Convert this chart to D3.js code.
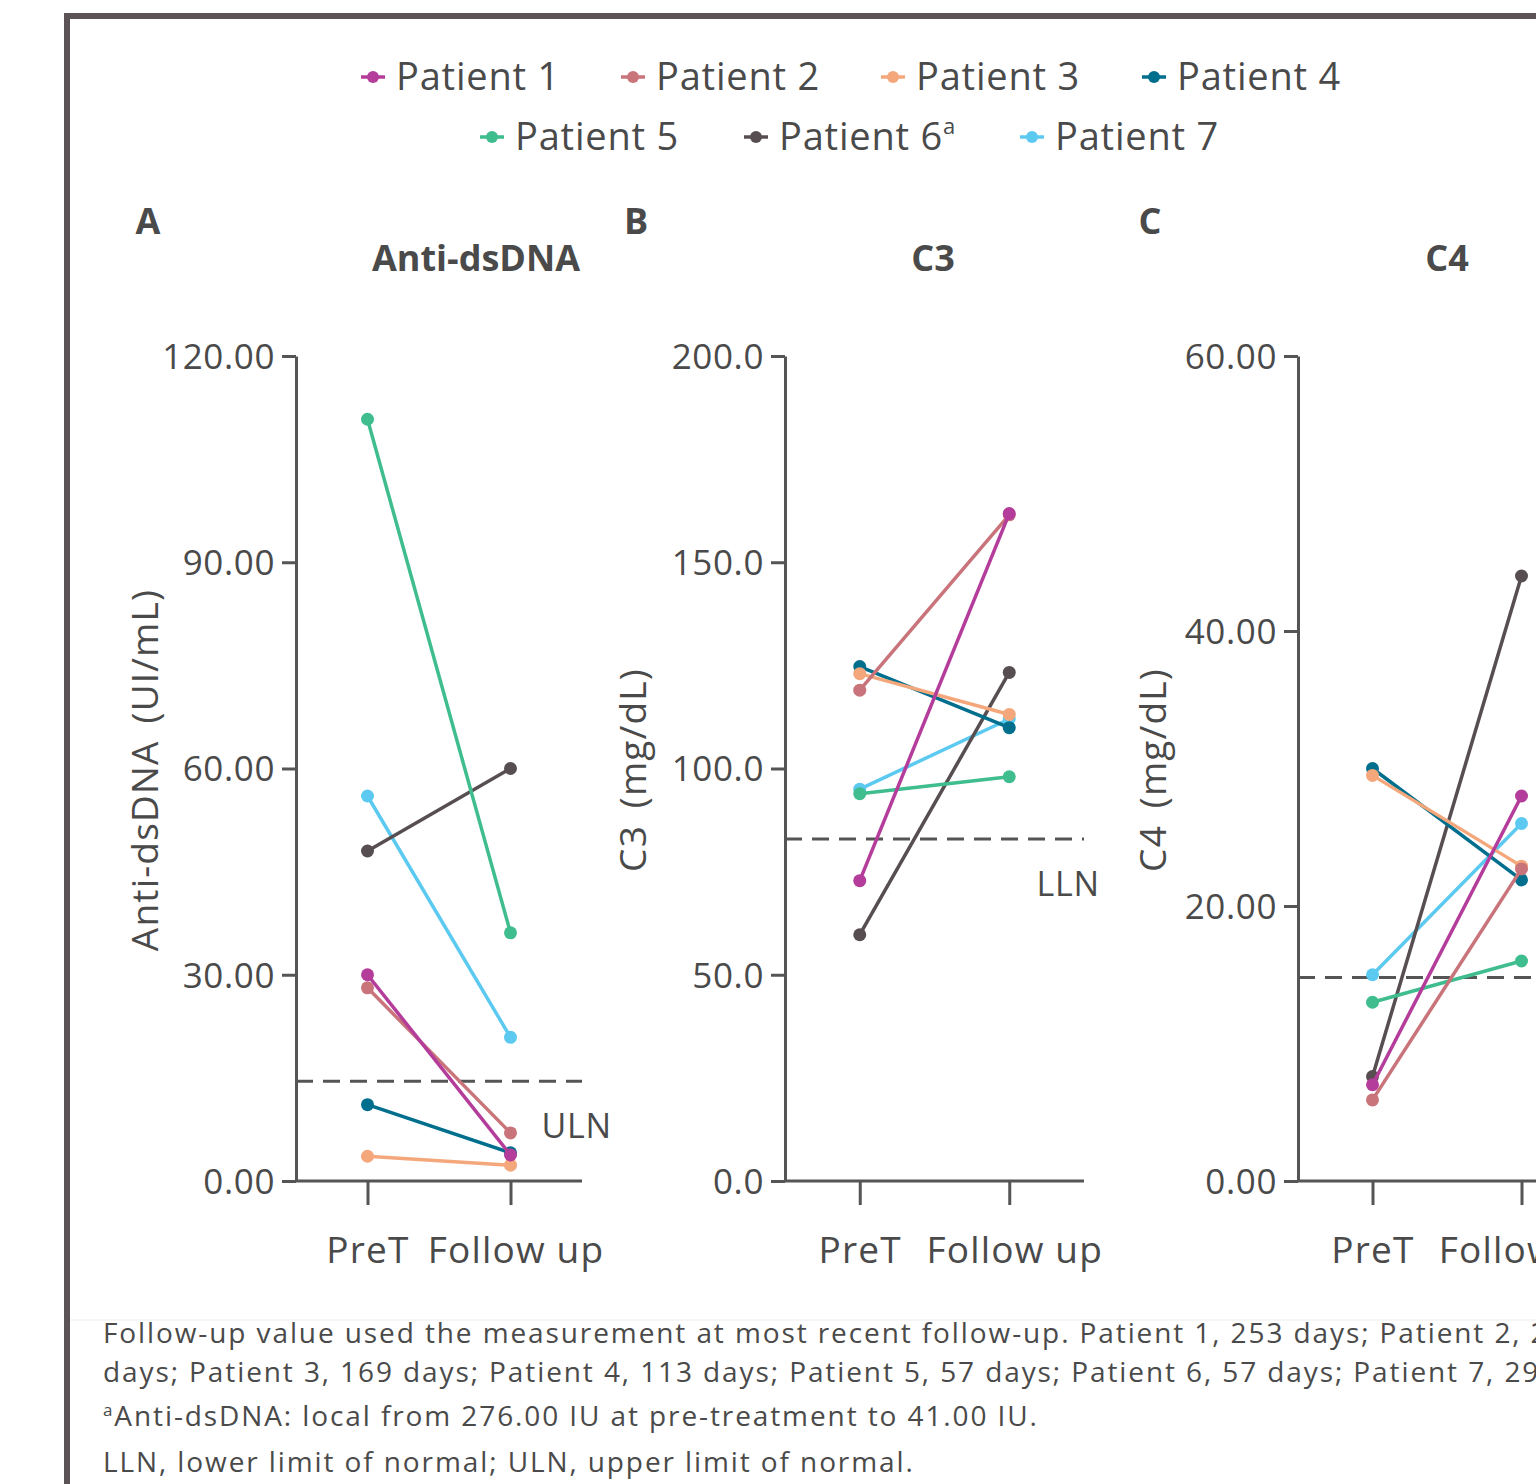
<script src="https://d3js.org/d3.v7.min.js"></script>
<style>
  body { margin: 0; background: #fff; overflow: hidden; }
  svg text { font-family: "Open Sans", sans-serif; fill: #4a4a4a; }
  .axis path, .axis line { stroke: #555; stroke-width: 3px; }
  .axis text { font-size: 35px; fill: #4a4a4a; }
</style>
<body>
<script>
  // data
  var patients = ["Patient 1", "Patient 2", "Patient 3", "Patient 4", "Patient 5", "Patient 6", "Patient 7"];
  var colors = ["#b43c9a", "#c9737a", "#f5a77c", "#006e8d", "#3fbd8f", "#574e51", "#5ccaf0"];
  var timepoints = ["PreT", "Follow up"];

  var dsdnaPre = [30.0, 28.1, 3.6, 11.1, 110.8, 48.0, 56.0];
  var dsdnaFollow = [3.8, 7.0, 2.3, 4.1, 36.1, 60.0, 20.9];
  var c3Pre = [72.8, 119.0, 123.0, 124.7, 93.9, 59.7, 95.0];
  var c3Follow = [161.8, 161.5, 113.1, 109.9, 98.0, 123.3, 112.0];
  var c4Pre = [7.0, 5.9, 29.5, 30.0, 13.0, 7.6, 15.0];
  var c4Follow = [28.0, 22.7, 22.9, 21.9, 16.0, 44.0, 26.0];

  var dsdnaTicks = [0, 30, 60, 90, 120];
  var c3Ticks = [0, 50, 100, 150, 200];
  var c4Ticks = [0, 20, 40, 60];
  var uln = 14.5, c3Lln = 82.9, c4Lln = 14.8;

  var W = 1536, H = 1484;
  var svg = d3.select("body").append("svg").attr("width", W).attr("height", H);

  // outer frame (cut off on the right like the source)
  svg.append("path")
    .attr("d", "M67,1490 V16 H1600")
    .attr("fill", "none").attr("stroke", "#5b5355").attr("stroke-width", 6);

  // legend
  var legendPos = [
    [373, 77], [633, 77], [893, 77], [1154, 77],
    [492, 137], [756, 137], [1032, 137]
  ];
  var leg = svg.selectAll("g.leg").data(patients).enter().append("g")
    .attr("class", "leg")
    .attr("transform", function(d, i) { return "translate(" + legendPos[i][0] + "," + legendPos[i][1] + ")"; });
  leg.append("line").attr("x1", -12).attr("x2", 12)
    .attr("stroke", function(d, i) { return colors[i]; }).attr("stroke-width", 3.5);
  leg.append("circle").attr("r", 6).attr("fill", function(d, i) { return colors[i]; });
  var lt = leg.append("text").attr("x", 23).attr("y", 13).style("font-size", "38px")
    .style("letter-spacing", "0.8px")
    .text(function(d) { return d; });
  lt.filter(function(d, i) { return i == 5; }).append("tspan")
    .attr("dy", -16).style("font-size", "22px").text("a");

  var panels = [
    { letter: "A", title: "Anti-dsDNA", ylab: "Anti-dsDNA (UI/mL)", pre: dsdnaPre, fu: dsdnaFollow,
      ticks: dsdnaTicks, fmt: ".2f", x0: 296, x1: 582, ref: uln, refLab: "ULN", refLabX: 612, refLabY: 1138,
      letterX: 148, titleX: 476, ylabX: 145 },
    { letter: "B", title: "C3", ylab: "C3 (mg/dL)", pre: c3Pre, fu: c3Follow,
      ticks: c3Ticks, fmt: ".1f", x0: 785, x1: 1084, ref: c3Lln, refLab: "LLN", refLabX: 1100, refLabY: 896,
      letterX: 636, titleX: 933, ylabX: 633 },
    { letter: "C", title: "C4", ylab: "C4 (mg/dL)", pre: c4Pre, fu: c4Follow,
      ticks: c4Ticks, fmt: ".2f", x0: 1298, x1: 1596, ref: c4Lln, refLab: null,
      letterX: 1150, titleX: 1447, ylabX: 1153 }
  ];

  var yTop = 356, yBot = 1181;

  panels.forEach(function(p) {
    var g = svg.append("g");
    var x = d3.scalePoint().domain(timepoints).range([p.x0, p.x1]).padding(0.5);
    var y = d3.scaleLinear().domain([0, d3.max(p.ticks)]).range([yBot, yTop]);

    g.append("text").attr("x", p.letterX).attr("y", 234).attr("text-anchor", "middle")
      .style("font-size", "36px").style("font-weight", "bold").text(p.letter);
    g.append("text").attr("x", p.titleX).attr("y", 271).attr("text-anchor", "middle")
      .style("font-size", "36px").style("font-weight", "bold").text(p.title);
    g.append("text")
      .attr("transform", "translate(" + (p.ylabX + 13) + ",770) rotate(-90)")
      .attr("text-anchor", "middle").style("font-size", "37px")
      .style("letter-spacing", "1.2px").style("word-spacing", "6px").text(p.ylab);

    var ya = g.append("g").attr("class", "axis").attr("transform", "translate(" + p.x0 + ",0)")
      .call(d3.axisLeft(y).tickValues(p.ticks).tickFormat(d3.format(p.fmt)).tickSize(14).tickSizeOuter(0).tickPadding(7));
    ya.selectAll("text").attr("dy", "0.35em").style("letter-spacing", "0.6px");

    var xa = g.append("g").attr("class", "axis").attr("transform", "translate(0," + yBot + ")")
      .call(d3.axisBottom(x).tickSize(24).tickSizeOuter(0).tickPadding(32));
    xa.selectAll("text").style("font-size", "37px").style("letter-spacing", "1.2px")
      .attr("dx", function(d) { return d == "Follow up" ? 5 : 0; });
    xa.select(".domain").attr("d", "M" + p.x0 + ",0H" + p.x1);

    // reference line
    g.append("line").attr("x1", p.x0).attr("x2", p.x1)
      .attr("y1", y(p.ref)).attr("y2", y(p.ref))
      .attr("stroke", "#555").attr("stroke-width", 3).attr("stroke-dasharray", "17,10");
    if (p.refLab) {
      g.append("text").attr("x", p.refLabX).attr("y", p.refLabY).attr("text-anchor", "end")
        .style("font-size", "34px").style("letter-spacing", "0.8px").text(p.refLab);
    }

    var rows = patients.map(function(d, i) { return { i: i, v: [p.pre[i], p.fu[i]] }; }).reverse();
    var pg = g.selectAll("g.pat").data(rows).enter().append("g").attr("class", "pat");
    pg.append("line")
      .attr("x1", x(timepoints[0])).attr("x2", x(timepoints[1]))
      .attr("y1", function(d) { return y(d.v[0]); })
      .attr("y2", function(d) { return y(d.v[1]); })
      .attr("stroke", function(d) { return colors[d.i]; }).attr("stroke-width", 3.5);
    pg.selectAll("circle").data(function(d) { return d.v.map(function(v, k) { return { v: v, k: k, i: d.i }; }); })
      .enter().append("circle")
      .attr("cx", function(d) { return x(timepoints[d.k]); })
      .attr("cy", function(d) { return y(d.v); })
      .attr("r", 6.5)
      .attr("fill", function(d) { return colors[d.i]; });
  });

  // footnotes
  svg.append("line").attr("x1", 70).attr("x2", 1536).attr("y1", 1320).attr("y2", 1320)
    .attr("stroke", "#f0eeee").attr("stroke-width", 1);
  var notes = [
    "Follow-up value used the measurement at most recent follow-up. Patient 1, 253 days; Patient 2, 2",
    "days; Patient 3, 169 days; Patient 4, 113 days; Patient 5, 57 days; Patient 6, 57 days; Patient 7, 29"
  ];
  var noteY = [1343, 1382];
  notes.forEach(function(t, i) {
    svg.append("text").attr("x", 103).attr("y", noteY[i]).style("font-size", "28px")
      .style("letter-spacing", "1.9px").text(t);
  });
  var n3 = svg.append("text").attr("x", 103).attr("y", 1426).style("font-size", "28px")
    .style("letter-spacing", "1.9px");
  n3.append("tspan").attr("dy", -10).style("font-size", "17px").text("a");
  n3.append("tspan").attr("dy", 10).text("Anti-dsDNA: local from 276.00 IU at pre-treatment to 41.00 IU.");
  svg.append("text").attr("x", 103).attr("y", 1472).style("font-size", "28px")
    .style("letter-spacing", "1.9px")
    .text("LLN, lower limit of normal; ULN, upper limit of normal.");
</script>
</body>
